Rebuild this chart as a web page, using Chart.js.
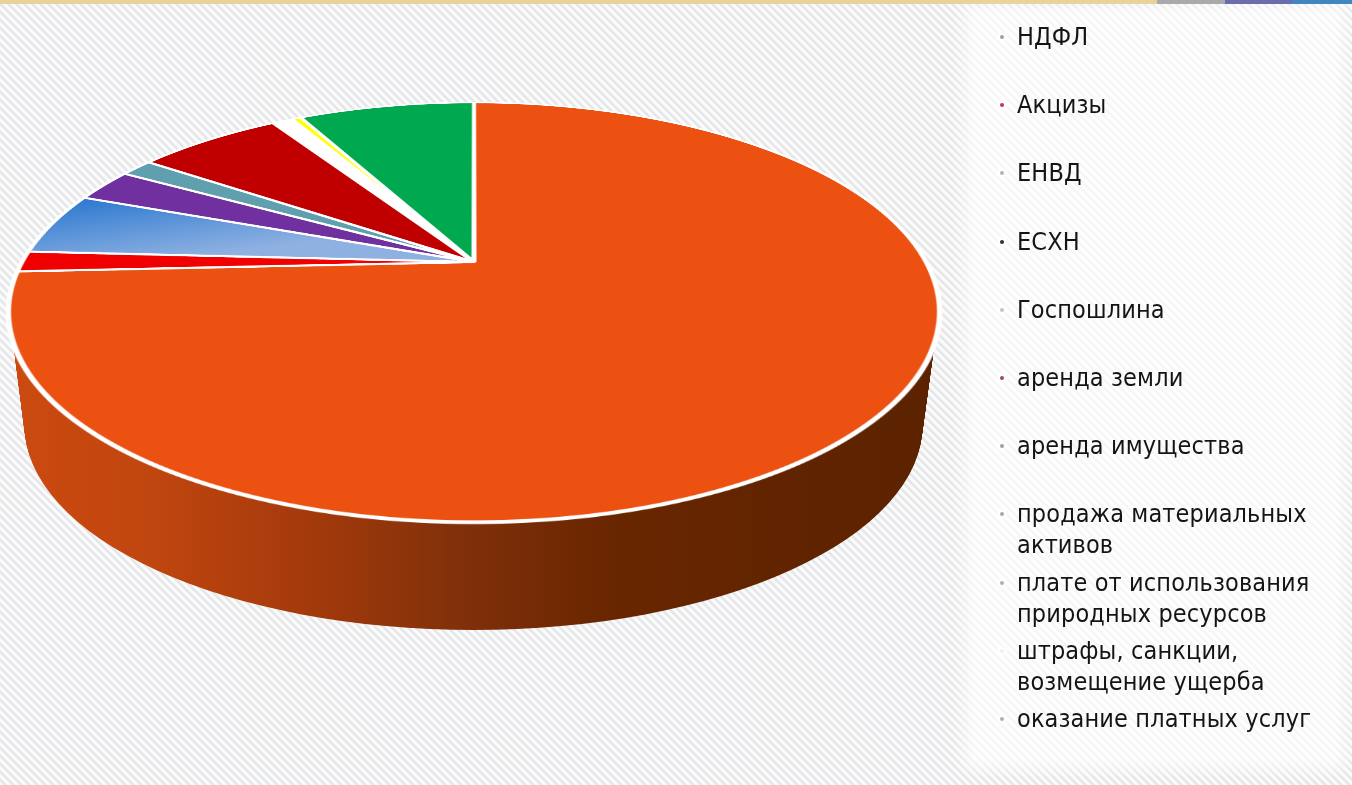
<!DOCTYPE html>
<html lang="ru">
<head>
  <meta charset="UTF-8" />
  <title>Структура доходов</title>
  <script src="https://cdn.jsdelivr.net/npm/chart.js"></script>
  <style>
    html, body {
      margin: 0;
      width: 1352px;
      height: 785px;
      overflow: hidden;
    }
    body {
      position: relative;
      background: repeating-linear-gradient(45deg, #fbfbfc 0, #fbfbfc 2px, #e5e6e8 3px, #e5e6e8 4.6px, #fbfbfc 5.657px);
    }
    #topBar {
      position: absolute;
      left: 0; top: 0;
      z-index: 2;
      width: 1352px; height: 4px;
      background: linear-gradient(90deg, #e8d49a 0, #e8d49a 1157px, #a9a9ab 1157px, #a9a9ab 1225px, #6a6cab 1225px, #6a6cab 1292px, #3f87bf 1292px);
    }
    #wall {
      position: absolute;
      left: 0; top: 0;
    }
    #pieBox {
      position: absolute;
      left: 14px; top: -198px;
      width: 920px; height: 920px;
      transform: perspective(1693px) rotateX(64.06deg);
      transform-origin: 460px 460px;
    }
    #panel {
      position: absolute;
      left: 972px; top: 12px;
      width: 366px; height: 750px;
      background: rgba(255,255,255,0.62);
      box-shadow: 0 0 14px 8px rgba(255,255,255,0.62);
    }
    #legend {
      position: absolute;
      left: 1017px; top: 21px;
      width: 330px;
      margin: 0; padding: 0;
      list-style: none;
      font: 25px "DejaVu Sans Condensed", "DejaVu Sans", sans-serif;
      letter-spacing: 0.13px;
      line-height: 31px;
      color: #141414;
    }
    #legend li {
      position: relative;
      height: 68.2px;
      white-space: pre-line;
    }
    #legend i {
      position: absolute;
      left: -17px; top: 14px;
      width: 4px; height: 4px;
      border-radius: 50%;
      box-shadow: 0 0 4px 3px #fff;
    }
  </style>
</head>
<body>
  <div id="topBar"></div>
  <canvas id="wall" width="1352" height="785"></canvas>
  <div id="pieBox"><canvas id="pie" width="920" height="920"></canvas></div>
  <div id="panel"></div>
  <ul id="legend"></ul>

  <script>
    const categories = [
      'НДФЛ', 'Акцизы', 'ЕНВД', 'ЕСХН', 'Госпошлина', 'аренда земли', 'аренда имущества',
      'продажа материальных\nактивов', 'плате от использования\nприродных ресурсов',
      'штрафы, санкции,\nвозмещение ущерба', 'оказание платных услуг'
    ];
    const shares = [74.4, 1.6, 4.9, 2.6, 1.4, 6.3, 0.9, 0.4, 0, 0, 7.7];
    const sliceColors = ['#ec5111', '#f00000', 'blue', '#7030a0', '#5f9fae', '#c00000', '#ffffff', '#ffff00', '#ffffff', '#ffffff', '#00a84f'];
    const dotColors = ['#a0a0a0', '#c8325a', '#b4b4b8', '#303030', '#c4c4c4', '#9a4a70', '#a0a0a4', '#a8a8a8', '#b0b0b0', '#f0f0f0', '#b0b0b0'];

    // side of the pie, only the big slice shows from the front
    const wallCtx = document.getElementById('wall').getContext('2d');
    const wallFill = wallCtx.createLinearGradient(10, 0, 938, 0);
    wallFill.addColorStop(0, '#cc4a10');
    wallFill.addColorStop(0.15, '#c0460f');
    wallFill.addColorStop(0.3, '#a83b0c');
    wallFill.addColorStop(0.49, '#80300a');
    wallFill.addColorStop(0.65, '#682600');
    wallFill.addColorStop(1, '#5c2200');
    wallCtx.fillStyle = wallFill;
    for (let i = 0; i <= 120; i++) {
      const t = i / 120;
      wallCtx.beginPath();
      wallCtx.ellipse(474 - 0.5 * t, 312 + 113 * t, 464 - 15 * t, 209 - 4 * t, 0, 0, Math.PI * 2);
      wallCtx.fill();
    }

    const pieCanvas = document.getElementById('pie');
    const pieCtx = pieCanvas.getContext('2d');
    const blueFill = pieCtx.createLinearGradient(60, 290, 120, 470);
    blueFill.addColorStop(0, '#2a78d0');
    blueFill.addColorStop(1, '#8fb1e2');
    const fills = sliceColors.map(c => c === 'blue' ? blueFill : c);

    new Chart(pieCtx, {
      type: 'pie',
      data: {
        labels: categories,
        datasets: [{
          data: shares,
          backgroundColor: fills,
          borderColor: '#ffffff',
          borderWidth: 5
        }]
      },
      options: {
        responsive: false,
        animation: false,
        devicePixelRatio: 2,
        radius: 452,
        plugins: { legend: { display: false }, tooltip: { enabled: false } }
      }
    });

    const legend = document.getElementById('legend');
    categories.forEach((name, i) => {
      const li = document.createElement('li');
      li.textContent = name;
      const dot = document.createElement('i');
      dot.style.background = dotColors[i];
      li.appendChild(dot);
      legend.appendChild(li);
    });
  </script>
</body>
</html>
